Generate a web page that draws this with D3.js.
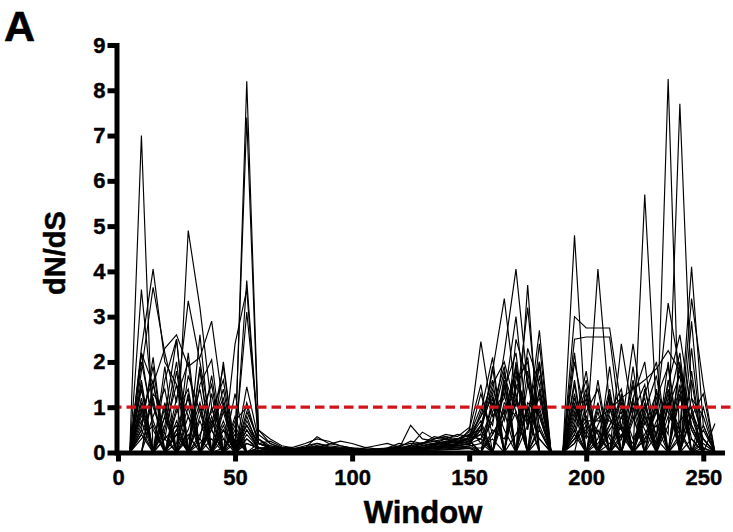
<!DOCTYPE html>
<html><head><meta charset="utf-8">
<script src="https://cdn.jsdelivr.net/npm/d3@7"></script>
<style>
html,body{margin:0;padding:0;background:#fff;}
svg{display:block;font-family:"Liberation Sans",Arial,sans-serif;}
</style></head>
<body><svg id="c" width="733" height="532"></svg>
<script>
// x categories (window positions)
const windows = [5,10,15,20,25,30,35,40,45,50,55,60,
  65,70,75,80,85,90,95,100,105,110,115,120,125,130,135,140,145,150,
  155,160,165,170,175,180,185,
  190,195,200,205,210,215,220,225,230,235,240,245,250,255];
const xTicks = [0,50,100,150,200,250];
const yTicks = [0,1,2,3,4,5,6,7,8,9];
const threshold = 1;

// dN/dS per window, one array per sequence
const s01 = [0,7.0,0,0,0.5,0,0,0.8,0,0,0.6,0.2, 0.1,0.05,0.04,0.06,0.08,0.07,0.05,0.04,0.03,0.05,0.06,0.1,0.12,0.15,0.2,0.18,0.25,0.3, 0.8,1.2,0,2.0,0,0.3,0, 0,1.5,0,0,0.8,0,1.2,0,0,1.0,2.2,0,0,0];
const s02 = [0,0.5,0,1.0,0,0.4,0,0,1.1,0,8.2,0.5, 0.3,0.15,0.1,0.08,0.1,0.12,0.06,0.05,0.04,0.05,0.08,0.06,0.1,0.12,0.1,0.15,0.2,0.25, 0.4,0,1.6,0,3.7,0,0, 0,0.2,0.9,1.4,0,0.6,0,0.8,0,8.25,0,0.3,0,0];
const s03 = [0,2.3,4.05,2.0,1.5,0.8,0.3,0,0.5,0.2,7.4,0.4, 0.2,0.1,0.08,0.15,0.2,0.12,0.1,0.08,0.06,0.05,0.07,0.1,0.08,0.15,0.18,0.22,0.2,0.35, 1.0,0.6,2.2,4.05,1.5,0.8,0, 0,4.8,0.5,0,1.1,0.5,0,5.7,0.9,0.4,7.7,1.2,0.3,0];
const s04 = [0,3.6,1.0,0.3,0,4.9,3.2,1.0,0.3,0,3.8,0.3, 0.15,0.1,0.12,0.2,0.3,0.25,0.15,0.1,0.08,0.06,0.1,0.15,0.2,0.18,0.3,0.35,0.3,0.4, 0.5,1.8,3.4,1.2,0.6,2.7,0, 0,3.0,2.75,2.75,2.75,1.0,0.3,0.8,0.2,1.2,0.5,4.1,0.6,0];
const s05 = [0,1.8,3.65,2.2,1.1,3.35,2.0,0.5,0,2.4,3.6,0.2, 0.1,0.08,0.06,0.1,0.15,0.1,0.08,0.07,0.05,0.04,0.06,0.08,0.6,0.3,0.25,0.2,0.3,0.45, 2.45,0.8,1.2,3.0,0.5,1.9,0, 0,2.5,2.55,2.55,2.55,0.5,2.4,0.6,1.3,0.9,0.4,3.4,1.5,0];
const s06 = [0,2.2,1.5,2.3,2.6,1.9,2.1,2.9,1.0,0.2,3.1,0.5, 0.2,0.1,0.08,0.12,0.1,0.09,0.08,0.06,0.05,0.06,0.05,0.08,0.1,0.2,0.15,0.25,0.3,0.3, 0.6,1.5,2.0,1.0,3.2,0.5,0, 0,1.2,0.3,4.05,1.0,0.3,1.6,0.2,0.9,3.3,1.8,0.6,0.1,0];
const s07 = [0,1.5,0,0.8,2.5,0,2.6,0,0.6,0,1.45,0.3, 0.1,0.05,0.04,0.08,0.12,0.1,0.08,0.05,0.04,0.03,0.05,0.04,0.08,0.1,0.15,0.12,0.2,0.3, 1.3,0.4,0.9,1.8,0.7,1.2,0, 0,2.0,0.7,0.7,0.7,0.5,0.2,1.0,0.4,1.5,2.6,0.9,0.3,0];
const s08 = [0,0.8,1.2,0,0.2,1.0,0,0.3,0,0.7,1.0,0.2, 0.25,0.12,0.08,0.1,0.35,0.2,0.15,0.1,0.06,0.08,0.1,0.2,0.15,0.45,0.3,0.35,0.25,0.2, 0.5,1.4,0.7,1.7,0.9,2.0,0, 0,0.3,0.5,0.75,0.95,1.2,1.4,1.6,1.85,2.25,1.8,0.5,0,0];
const s09 = [0,1.2,0,1.6,2.5,0,0.3,1.7,0,0,0.8,0.1, 0.05,0.04,0.03,0.05,0.06,0.05,0.04,0.03,0.02,0.03,0.04,0.05,0.06,0.08,0.1,0.12,0.15,0.2, 0.9,2.1,0,2.5,1.6,0,0, 0,0.6,1.8,0,0,1.0,0,1.3,2.0,0,1.5,0.3,0,0];
const s10 = [0,0.6,1.9,0,0.4,0,1.5,2.05,0,0.3,0,0.2, 0.12,0.08,0.06,0.1,0.2,0.15,0.12,0.1,0.08,0.05,0.08,0.12,0.1,0.2,0.25,0.3,0.4,0.35, 0.3,1.0,1.9,0,2.3,1.5,0, 0,0.9,0,1.1,0,2.4,0.8,0,1.2,1.9,0,2.9,0,0];
const s11 = [0,2.0,0.7,0,0.9,1.4,0,0.6,1.2,0,0.9,0.3, 0.08,0.06,0.05,0.07,0.1,0.08,0.06,0.05,0.04,0.06,0.09,0.12,0.25,0.2,0.35,0.3,0.2,0.5, 1.5,0,1.4,2.2,0,2.0,0, 0,2.2,0,0.3,1.4,0,1.1,0.5,0,1.6,0,1.8,0,0.64];
const s12 = [0,0.4,0,0.6,2.0,0,0.4,0.9,1.6,0,0.5,0.1, 0.04,0.03,0.02,0.04,0.05,0.04,0.03,0.03,0.02,0.02,0.03,0.04,0.05,0.07,0.09,0.1,0.12,0.15, 0.6,1.3,0,1.6,2.0,0,0, 0,0.4,1.2,0,1.9,0,0.9,1.5,0,1.1,0,0.8,1.3,0];
const s13 = [0,1.0,0,1.9,0,0.3,1.1,0,2.0,0,0.7,0.2, 0.15,0.1,0.07,0.08,0.12,0.18,0.25,0.2,0.12,0.08,0.06,0.1,0.15,0.2,0.3,0.4,0.35,0.55, 0.2,0,1.7,0.9,0,2.4,0, 0,1.6,0,1.6,0,1.3,0,0.9,1.7,0,2.0,0,0.1,0];
const s14 = [0,0,0.8,1.4,0,2.2,0,1.3,0,0.6,0,0.1, 0.06,0.05,0.04,0.05,0.07,0.06,0.05,0.04,0.03,0.04,0.05,0.06,0.08,0.1,0.12,0.15,0.18,0.25, 0,0.9,1.3,0,1.8,0,0, 0,0.3,0.8,0,1.0,0,1.9,0,0.4,1.3,0,1.6,0,0];
const s15 = [0,1.4,0,0.3,1.8,0,1.0,0,0.9,0,1.1,0.2, 0.1,0.07,0.05,0.06,0.09,0.07,0.06,0.08,0.1,0.15,0.2,0.12,0.1,0.15,0.2,0.25,0.22,0.3, 0.7,0,1.0,1.3,0,1.7,0, 0,1.1,0,0.9,0,0.8,0,1.1,0,2.0,0,1.2,0.8,0];
const s16 = [0,0.9,1.6,0,0.5,1.2,0,0.7,0,1.3,0,0.1, 0.03,0.02,0.02,0.03,0.04,0.03,0.02,0.02,0.01,0.02,0.02,0.03,0.04,0.05,0.06,0.08,0.1,0.12, 0,1.1,0,1.5,0.8,0,0, 0,0.7,1.4,0,0.9,1.4,0,0.3,1.0,0,1.3,0,1.0,0];
const s17 = [0,0,1.3,0.9,0,0.5,1.4,0,1.0,0,0.2,0.1, 0.07,0.05,0.04,0.06,0.08,0.07,0.05,0.04,0.03,0.04,0.05,0.07,0.1,0.08,0.12,0.18,0.15,0.2, 0.3,0,1.1,0.8,0,0.5,0, 0,0.5,0,0.6,1.2,0,0.8,0,1.4,0,0.7,1.0,0,0];
const s18 = [0,0.7,0,1.1,0,0.8,0,1.0,0,0.2,0.6,0.1, 0.05,0.04,0.03,0.04,0.06,0.05,0.04,0.03,0.02,0.03,0.04,0.05,0.07,0.09,0.11,0.14,0.16,0.18, 0,0.4,0.9,0,1.1,0.8,0, 0,0.2,0.6,0,0.5,0.9,0,0.7,0,0.8,0.5,0,0.6,0];
const s19 = [0,0.3,0.6,0,0.4,0,0.7,0,0.5,0,0.3,0.05, 0.02,0.02,0.01,0.02,0.03,0.02,0.02,0.01,0.01,0.01,0.02,0.02,0.03,0.04,0.05,0.06,0.08,0.1, 0.1,0.3,0,0.4,0.9,0,0, 0,0.4,0,0.5,0,0.4,0,0.3,0.6,0,0.4,0,0.2,0];
const s20 = [0,1.1,0,0.5,1.5,0,1.8,0,0.1,0.4,0,0.05, 0.09,0.06,0.05,0.07,0.11,0.09,0.07,0.06,0.05,0.05,0.06,0.09,0.12,0.1,0.18,0.22,0.28,0.38, 0.8,1.6,0,1.2,0,1.4,0, 0,1.3,0,0.2,0.6,1.1,0,0.9,0,1.0,1.7,0,0.5,0];
const s21 = [0,0.5,2.1,0,1.2,2.0,0,0.5,1.4,0,0.3,0.1, 0.12,0.09,0.07,0.09,0.14,0.11,0.09,0.07,0.06,0.07,0.09,0.11,0.14,0.22,0.2,0.3,0.25,0.32, 0.4,1.9,0,1.4,2.1,0,0, 0,0.8,1.6,0,1.3,0,1.2,2.0,0,1.4,0,2.3,0,0];
const s22 = [0,1.6,0,0.8,0,1.7,0.9,0,0.7,0,0.4,0.1, 0.04,0.03,0.03,0.05,0.07,0.05,0.04,0.03,0.03,0.04,0.05,0.07,0.09,0.11,0.13,0.16,0.19,0.22, 0.6,0,1.5,0,1.0,0.3,0, 0,0,1.1,0.4,0,0.3,1.0,0,1.1,0,1.2,0.5,0,0];
const s23 = [0,0.4,1.1,0,0.7,0,1.9,0,0.3,0,0.5,0.1, 0.05,0.03,0.03,0.04,0.05,0.04,0.03,0.03,0.02,0.03,0.04,0.05,0.06,0.08,0.1,0.12,0.14,0.2, 0.5,0,0.8,1.9,0,1.0,0, 0,0.6,0,1.0,0.3,0,1.5,0,0.7,1.1,0,0.9,0,0];
const s24 = [0,0,1.5,0.4,0,1.3,0,0.6,1.9,0,0.2,0.1, 0.08,0.05,0.04,0.05,0.08,0.06,0.05,0.04,0.04,0.05,0.06,0.08,0.1,0.12,0.15,0.2,0.24,0.28, 0,1.2,0.5,0,1.5,0.9,0, 0,1.0,0.4,0,0.6,1.2,0,1.4,0.3,0,1.9,0.6,0,0];
const s25 = [0,2.2,0.5,0,1.0,0,0.8,1.5,0,0.5,0,0.1, 0.03,0.02,0.02,0.03,0.04,0.03,0.03,0.02,0.02,0.02,0.03,0.04,0.05,0.06,0.08,0.1,0.11,0.14, 0.2,0.7,1.8,0,0.6,1.3,0, 0,0.5,1.3,0,0.4,0,0.7,1.2,0,0.6,1.4,0,0.3,0];
const s26 = [0,0.9,0,0.3,0.6,0,0.2,0.5,0,0.8,0,0.05, 0.02,0.01,0.01,0.02,0.02,0.02,0.01,0.01,0.01,0.01,0.02,0.02,0.03,0.04,0.05,0.06,0.07,0.09, 0,0.5,0.3,0.9,0,0.6,0, 0,0.3,0.7,0,0.2,0.6,0,0.4,0.9,0,0.3,0.8,0,0];

const seriesList = [s01,s02,s03,s04,s05,s06,s07,s08,s09,s10,s11,s12,s13,
  s14,s15,s16,s17,s18,s19,s20,s21,s22,s23,s24,s25,s26];

const svg = d3.select("#c");
const x = d3.scaleLinear().domain([0, 258]).range([118, 722]);
const y = d3.scaleLinear().domain([0, 9]).range([452.5, 45]);

const line = d3.line().x((d,i) => x(windows[i])).y(d => y(d));

svg.append("g").selectAll("path").data(seriesList).join("path")
  .attr("d", line).attr("fill", "none").attr("stroke", "#000")
  .attr("stroke-width", 1.15).attr("stroke-linejoin", "miter");

// threshold line
svg.append("line")
  .attr("x1", 112).attr("x2", 733)
  .attr("y1", y(threshold)).attr("y2", y(threshold))
  .attr("stroke", "#d0141a").attr("stroke-width", 3.2)
  .attr("stroke-dasharray", "9.5,5");

const fontF = '"Liberation Sans", Arial, sans-serif';

const gx = svg.append("g").attr("transform", `translate(0,${y(0)})`)
  .call(d3.axisBottom(x).tickValues(xTicks).tickSize(9).tickSizeOuter(0).tickPadding(8));
gx.select(".domain").attr("stroke-width", 5).attr("stroke-linecap", "square");
gx.selectAll(".tick line").attr("stroke-width", 5);
gx.selectAll(".tick text").attr("font-size", 22).attr("font-weight", "bold").attr("font-family", fontF)
  .attr("fill", "#000").attr("stroke", "#000").attr("stroke-width", 0.4);

const gy = svg.append("g").attr("transform", `translate(116.5,0)`)
  .call(d3.axisLeft(y).tickValues(yTicks).tickSize(9).tickSizeOuter(0).tickPadding(2));
gy.select(".domain").attr("stroke-width", 5).attr("stroke-linecap", "square");
gy.selectAll(".tick line").attr("stroke-width", 5);
gy.selectAll(".tick text").attr("font-size", 22).attr("font-weight", "bold").attr("font-family", fontF)
  .attr("fill", "#000").attr("stroke", "#000").attr("stroke-width", 0.4);

svg.append("text").attr("x", 423).attr("y", 523).attr("text-anchor", "middle")
  .attr("font-size", 31).attr("font-weight", "bold").attr("font-family", fontF)
  .attr("stroke", "#000").attr("stroke-width", 0.5).text("Window");

svg.append("text").attr("transform", "translate(65,253) rotate(-90)").attr("text-anchor", "middle")
  .attr("font-size", 29).attr("font-weight", "bold").attr("font-family", fontF)
  .attr("stroke", "#000").attr("stroke-width", 0.5).text("dN/dS");

svg.append("text").attr("x", 4).attr("y", 41)
  .attr("font-size", 43).attr("font-weight", "bold").attr("font-family", fontF)
  .attr("stroke", "#000").attr("stroke-width", 0.6).text("A");
</script></body></html>
